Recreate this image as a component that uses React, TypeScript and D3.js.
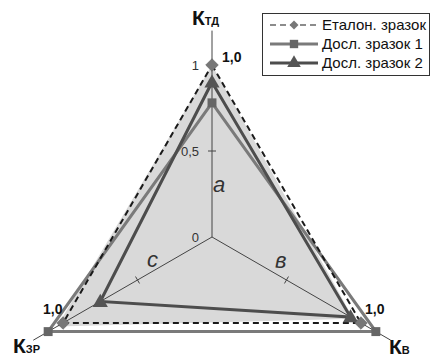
import React from 'react';
import * as d3 from 'd3';

// radar axes (top, bottom-right, bottom-left)
const axisNames = ['К', 'К', 'К'];
const axisSubs = ['ТД', 'В', 'ЗР'];
const sideLetters = ['a', 'в', 'с'];

const etalon = [1.0, 1.0, 1.0];
const sample1 = [0.78, 1.1, 1.1];
const sample2 = [0.9, 0.93, 0.75];
const shade = [1.0, 0.95, 1.04];

const tickValues = [0, 0.5, 1];
const tickLabels = ['0', '0,5', '1'];
const cornerLabel = '1,0';

const seriesNames = ['Еталон. зразок', 'Досл. зразок 1', 'Досл. зразок 2'];

const W = 433, H = 359;
const cx = 212, cy = 237;

export default function App() {
  const r = d3.scaleLinear().domain([0, 1.2]).range([0, 206.4]);
  const angle = d3.scaleOrdinal<number, number>().domain([0, 1, 2]).range([-90, 30, 150].map(a => a * Math.PI / 180));

  const pt = (i: number, v: number): [number, number] => {
    const a = angle(i);
    return [cx + r(v) * Math.cos(a), cy + r(v) * Math.sin(a)];
  };
  const poly = (vals: number[]) => d3.line().curve(d3.curveLinearClosed)(vals.map((v, i) => pt(i, v))) as string;

  const font = "'Liberation Sans', Arial, sans-serif";
  const sym = d3.symbol();
  const square = (s: number) => sym.type(d3.symbolSquare).size(s)() as string;
  const triangle = (s: number) => sym.type(d3.symbolTriangle).size(s)() as string;
  // diamond = square turned 45deg
  const diamondT = (x: number, y: number) => `translate(${x},${y}) rotate(45)`;

  const c1 = '#7a7a7a', c2 = '#4d4d4d', c0 = '#1a1a1a';

  // label positions (layout)
  const nameAnchors: [number, number][] = [[192, 25], [389, 354], [13, 353]];
  const cornerPos: [number, number][] = [[222, 62], [365, 314], [43, 314]];
  const letterPos: [number, number][] = [[213, 192], [275, 268], [147, 267]];

  return (
    <svg width={W} height={H} style={{ position: 'absolute', left: 0, top: 0, background: '#fff' }} fontFamily={font}>
      <path d={poly(shade)} fill="#d9d9d9" stroke="none" />

      {/* axes */}
      {[0, 1, 2].map(i => {
        const [x0, y0] = pt(i, 0);
        const [x1, y1] = pt(i, 1.2);
        const a = angle(i);
        const nx = -Math.sin(a), ny = Math.cos(a);
        return (
          <g key={i}>
            <line x1={x0} y1={y0} x2={x1} y2={y1} stroke="#444" strokeWidth={1} />
            {[0.5, 1].map(v => {
              const [tx, ty] = pt(i, v);
              return <line key={v} x1={tx - nx * 4} y1={ty - ny * 4} x2={tx + nx * 4} y2={ty + ny * 4} stroke="#444" strokeWidth={1} />;
            })}
          </g>
        );
      })}

      {tickValues.map((v, k) => {
        const [, y] = pt(0, v);
        return (
          <text key={k} x={cx - 13} y={y + 4.5} fontSize={13} textAnchor="end" fill="#333">{tickLabels[k]}</text>
        );
      })}

      {sideLetters.map((s, i) => (
        <text key={i} x={letterPos[i][0]} y={letterPos[i][1]} fontSize={22} fontStyle="italic" fill="#333">{s}</text>
      ))}

      {/* series lines */}
      <path d={poly(sample1)} fill="none" stroke={c1} strokeWidth={3} />
      <path d={poly(sample2)} fill="none" stroke={c2} strokeWidth={3} />
      <path d={poly(etalon)} fill="none" stroke={c0} strokeWidth={2} strokeDasharray="6,4" />

      {sample1.map((v, i) => {
        const [x, y] = pt(i, v);
        return <path key={i} d={square(80)} transform={`translate(${x},${y})`} fill="#666" />;
      })}
      {sample2.map((v, i) => {
        const [x, y] = pt(i, v);
        return <path key={i} d={triangle(100)} transform={`translate(${x},${y + 1})`} fill="#555" />;
      })}
      {etalon.map((v, i) => {
        const [x, y] = pt(i, v);
        return <path key={i} d={square(80)} transform={diamondT(x, y)} fill="#777" stroke="#555" strokeWidth={0.5} />;
      })}

      {/* axis names */}
      {axisNames.map((n, i) => (
        <text key={i} x={nameAnchors[i][0]} y={nameAnchors[i][1]} fontWeight="bold" fill="#111">
          <tspan fontSize={21}>{n}</tspan>
          <tspan fontSize={11}>{axisSubs[i]}</tspan>
        </text>
      ))}
      {cornerPos.map((p, i) => (
        <text key={i} x={p[0]} y={p[1]} fontSize={14} fontWeight="bold" fill="#111">{cornerLabel}</text>
      ))}

      {/* legend */}
      <g>
        <rect x={262.5} y={13.5} width={167} height={62} fill="#fff" stroke="#333" strokeWidth={1} />
        {seriesNames.map((name, k) => {
          const y = 25 + k * 19;
          const col = k === 0 ? c0 : k === 1 ? c1 : c2;
          return (
            <g key={k}>
              <line x1={270} x2={318} y1={y} y2={y} stroke={col} strokeWidth={k === 0 ? 1.2 : 3}
                strokeDasharray={k === 0 ? '6,4' : undefined} />
              {k === 0
                ? <path d={square(40)} transform={diamondT(294, y)} fill="#777" />
                : <path d={k === 1 ? square(70) : triangle(80)} transform={`translate(294,${y})`} fill={k === 1 ? '#666' : '#555'} />}
              <text x={322} y={y + 5} fontSize={15} fill="#111">{name}</text>
            </g>
          );
        })}
      </g>
    </svg>
  );
}
